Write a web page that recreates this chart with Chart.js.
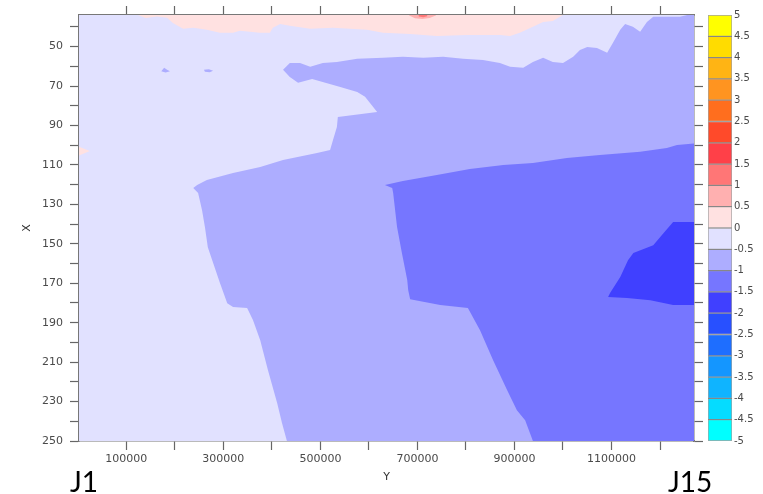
<!DOCTYPE html>
<html>
<head>
<meta charset="utf-8">
<script src="https://cdn.jsdelivr.net/npm/chart.js@4/dist/chart.umd.min.js"></script>
<style>
  html, body { margin: 0; padding: 0; background: #fff; }
  #wrap { position: relative; width: 763px; height: 494px; overflow: hidden; }
  #contour { position: absolute; left: 0; top: 0; }
  #colorbar { position: absolute; left: 700px; top: 0; }
  .tag { position: absolute; top: 467px; font: 28px Lato, "Noto Sans", sans-serif; line-height: 1; color: #000; }
</style>
</head>
<body>
<div id="wrap">
  <canvas id="contour" width="763" height="494"></canvas>
  <canvas id="colorbar" width="63" height="494"></canvas>
  <div class="tag" style="left:70px">J1</div>
  <div class="tag" style="left:668px">J15</div>
</div>
<script>
// contour levels (colour bar), from -5 to 5 in 0.5 steps
const levelBounds = [-5, -4.5, -4, -3.5, -3, -2.5, -2, -1.5, -1, -0.5, 0, 0.5, 1, 1.5, 2, 2.5, 3, 3.5, 4, 4.5, 5];
const levelColors = [
    '#00FFFF', '#05DCFF', '#0FB4FF', '#1496FF', '#1E6EFF', '#2850FF', '#4040FF', '#7676FF', '#ADADFF', '#E1E1FF',
    '#FFE1E1', '#FFB0B0', '#FF7676', '#FF4048', '#FF4A2A', '#FF6E1E', '#FF9420', '#FFB414', '#FFDC00', '#FFFF00'
];

// axis ticks: horizontal axis is "Y", vertical axis is "X"
const yTickValues = [100000, 200000, 300000, 400000, 500000, 600000, 700000, 800000, 900000, 1000000, 1100000, 1200000];
const yTickLabels = [100000, 300000, 500000, 700000, 900000, 1100000];
const xTickValues = [40, 50, 60, 70, 80, 90, 100, 110, 120, 130, 140, 150, 160, 170, 180, 190, 200, 210, 220, 230, 240, 250];
const xTickLabels = [50, 70, 90, 110, 130, 150, 170, 190, 210, 230, 250];

// contour regions, points are [Y, X]; the last number in each name is the lower level bound
const areaBelowZero = [[0, 30], [1280000, 30], [1280000, 255], [0, 255]];
const areaTopPink = [[124000, 30], [124000, 34], [140000, 35.5], [163000, 34.8], [184000, 35.4], [196000, 38], [217000, 41], [238000, 40.5],
    [266000, 41.5], [293000, 43], [320000, 43], [334000, 42], [355000, 42.5], [375000, 43], [396000, 43], [402000, 40.5], [417000, 38.5],
    [437000, 39.5], [479000, 41], [526000, 40.5], [596000, 41.5], [629000, 43], [685000, 43.6], [740000, 44.6], [802000, 44.1],
    [870000, 44.1], [891000, 44.6], [911000, 43], [938000, 40], [959000, 37.5], [979000, 37], [1000000, 34], [1000000, 30]];
const areaLeftPink = [[0, 100.5], [25000, 103], [0, 105.5]];
const areaRedSpot = [[683000, 30], [683000, 34.3], [695000, 35.6], [710000, 36], [725000, 35.5], [738000, 34.3], [738000, 30]];
const areaRedCore = [[700000, 30], [703000, 34.8], [712000, 35.2], [720000, 34.6], [722000, 30]];
const areaBlobA = [[172000, 62.5], [178000, 60.8], [184000, 61.8], [190000, 62.5], [181000, 63.2]];
const areaBlobB = [[260000, 61.8], [270000, 61.5], [279000, 62.3], [272000, 63], [262000, 62.8]];
const areaMinus05 = [[423000, 61.8], [437000, 58.3], [458000, 58.3], [479000, 60.3], [505000, 58.3], [534000, 57.8], [576000, 56.2],
    [629000, 55.7], [670000, 55.2], [712000, 55.7], [753000, 55.2], [794000, 56.2], [835000, 56.8], [870000, 58.3], [891000, 60.3],
    [918000, 60.8], [938000, 57.8], [959000, 55.7], [979000, 57.8], [1000000, 58.3], [1021000, 55.2], [1035000, 51.7], [1050000, 50.2],
    [1070000, 50.7], [1091000, 53.2], [1103000, 48.1], [1118000, 41.5], [1128000, 38.5], [1144000, 40], [1159000, 42.5], [1173000, 37.5],
    [1186000, 34.9], [1241000, 34.9], [1256000, 34], [1256000, 30], [1280000, 30], [1280000, 255], [431000, 255], [431000, 250],
    [421000, 241], [411000, 230.9], [392000, 214.1], [376000, 198.9], [361000, 188.7], [349000, 182.6], [320000, 182.1], [308000, 180.1],
    [293000, 169.9], [279000, 159.8], [268000, 151.7], [262000, 141.5], [256000, 132.9], [248000, 124.3], [238000, 121.7], [246000, 120.2],
    [266000, 117.7], [320000, 114.1], [376000, 111.1], [423000, 107.5], [493000, 104], [520000, 102.4], [526000, 97.4], [534000, 90.8],
    [536000, 85.7], [617000, 83.2], [592000, 75.5], [576000, 73], [541000, 70.5], [483000, 66.4], [454000, 68.4], [437000, 65.4]];
const areaMinus1 = [[633000, 120.2], [670000, 118.2], [740000, 115.1], [808000, 112.1], [877000, 110.1], [938000, 109.1], [1008000, 106.5],
    [1076000, 105], [1159000, 103.4], [1214000, 101.4], [1235000, 99.9], [1280000, 98.9], [1280000, 255], [938000, 255], [938000, 250],
    [922000, 239.5], [905000, 234.4], [885000, 224.3], [856000, 209], [829000, 193.8], [804000, 182.6], [747000, 181.1], [685000, 178.1],
    [681000, 173.5], [679000, 168.4], [668000, 154.7], [658000, 141.5], [650000, 124.3], [648000, 121.7]];
const areaMinus15 = [[1280000, 139], [1227000, 139], [1207000, 144.6], [1186000, 150.7], [1145000, 154.7], [1134000, 158.3],
    [1118000, 166.9], [1097000, 175], [1093000, 177], [1132000, 177.5], [1180000, 178.6], [1227000, 181.1], [1280000, 181.1]];

// draw order + level of each region
const areaList = [
    [areaBelowZero, -0.5], [areaTopPink, 0], [areaRedSpot, 0.5], [areaRedCore, 1], [areaLeftPink, 0],
    [areaBlobA, -1], [areaBlobB, -1], [areaMinus05, -1], [areaMinus1, -1.5], [areaMinus15, -2]
];

const tickFont = { family: 'DejaVu Sans', size: 11 };
const tickColor = '#4a4a4a';

function levelColor(lower) {
    return levelColors[levelBounds.indexOf(lower)];
}

// fill each dataset as a closed polygon using the point positions from the scales
const polygonFill = {
    id: 'polygonFill',
    beforeDatasetsDraw(chart) {
        const ctx = chart.ctx;
        const a = chart.chartArea;
        ctx.save();
        ctx.beginPath();
        ctx.rect(a.left, a.top, a.right - a.left, a.bottom - a.top);
        ctx.clip();
        chart.data.datasets.forEach((ds, i) => {
            const pts = chart.getDatasetMeta(i).data;
            ctx.beginPath();
            pts.forEach((p, j) => j ? ctx.lineTo(p.x, p.y) : ctx.moveTo(p.x, p.y));
            ctx.closePath();
            ctx.fillStyle = ds.backgroundColor;
            ctx.fill();
        });
        ctx.restore();
    }
};

function edgeAxis(position, min, max, values, size, extra) {
    const horizontal = position === 'top' || position === 'bottom';
    return Object.assign({
        type: 'linear',
        position: position,
        min: min,
        max: max,
        afterBuildTicks: (scale) => { scale.ticks = values.map(v => ({ value: v })); },
        afterFit: (scale) => { if (horizontal) scale.height = size; else scale.width = size; },
        grid: { drawOnChartArea: false, tickLength: 9, tickColor: '#666', tickWidth: 1.2 },
        border: { color: '#777', width: 1.5 },
        ticks: { display: false }
    }, extra);
}

new Chart(document.getElementById('contour'), {
    type: 'scatter',
    data: {
        datasets: areaList.map(([pts, lower]) => ({
            data: pts.map(([y, x]) => ({ x: y, y: x })),
            backgroundColor: levelColor(lower),
            showLine: false,
            pointRadius: 0,
            pointHoverRadius: 0
        }))
    },
    options: {
        responsive: false,
        animation: false,
        events: [],
        layout: { padding: { left: 0, top: 5, right: 59, bottom: 0 } },
        plugins: { legend: { display: false }, tooltip: { enabled: false } },
        scales: {
            x: edgeAxis('bottom', 2500, 1270000, yTickValues, 53, {
                ticks: {
                    font: tickFont, color: tickColor, padding: 3, maxRotation: 0, autoSkip: false,
                    callback: (v) => yTickLabels.includes(v) ? String(v) : ''
                },
                title: { display: true, text: 'Y', font: { family: 'DejaVu Sans', size: 11 }, color: '#333', padding: { top: 0, bottom: 10 } }
            }),
            x2: edgeAxis('top', 2500, 1270000, yTickValues, 10),
            y: edgeAxis('left', 34, 250, xTickValues, 79, {
                reverse: true,
                ticks: {
                    font: tickFont, color: tickColor, padding: 7, autoSkip: false,
                    callback: (v) => xTickLabels.includes(v) ? String(v) : ''
                },
                title: { display: true, text: 'X', font: { family: 'DejaVu Sans', size: 11 }, color: '#333', padding: { top: 21, bottom: 0 } }
            }),
            y2: edgeAxis('right', 34, 250, xTickValues, 10, { reverse: true })
        }
    },
    plugins: [polygonFill]
});

// colour bar: one floating bar per level
new Chart(document.getElementById('colorbar'), {
    type: 'bar',
    data: {
        labels: [''],
        datasets: levelColors.map((c, i) => ({
            data: [[levelBounds[i], levelBounds[i + 1]]],
            backgroundColor: c,
            borderColor: 'rgba(50,50,50,0.45)',
            borderWidth: 1,
            borderSkipped: false,
            grouped: false,
            barPercentage: 1,
            categoryPercentage: 1
        }))
    },
    options: {
        responsive: false,
        animation: false,
        events: [],
        layout: { padding: { left: 8, top: 15, right: 0, bottom: 53 } },
        plugins: { legend: { display: false }, tooltip: { enabled: false } },
        scales: {
            x: { display: false },
            y: {
                position: 'right',
                min: -5,
                max: 5,
                afterBuildTicks: (scale) => { scale.ticks = levelBounds.map(v => ({ value: v })); },
                afterFit: (scale) => { scale.width = 31; },
                grid: { display: false, drawTicks: false },
                border: { display: false },
                ticks: { font: { family: 'DejaVu Sans', size: 10 }, color: tickColor, padding: 2, callback: (v) => String(v) }
            }
        }
    }
});
</script>
</body>
</html>
